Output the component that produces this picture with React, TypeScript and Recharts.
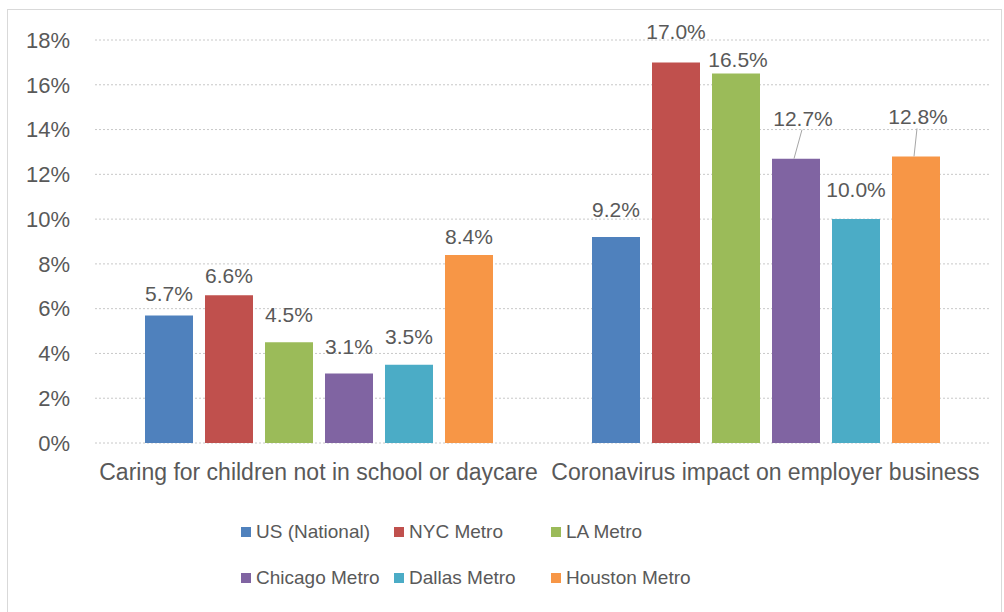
import React from "react"
import { BarChart, Bar, XAxis, YAxis, CartesianGrid, Legend, LabelList } from "recharts"

const categories = [
  "Caring for children not in school or daycare",
  "Coronavirus impact on employer business",
]

const usNational = [5.7, 9.2]
const nycMetro = [6.6, 17.0]
const laMetro = [4.5, 16.5]
const chicagoMetro = [3.1, 12.7]
const dallasMetro = [3.5, 10.0]
const houstonMetro = [8.4, 12.8]

const yTicks = [0, 2, 4, 6, 8, 10, 12, 14, 16, 18]

const series = [
  { key: "us", name: "US (National)", values: usNational, color: "#4F81BD" },
  { key: "nyc", name: "NYC Metro", values: nycMetro, color: "#C0504D" },
  { key: "la", name: "LA Metro", values: laMetro, color: "#9BBB59" },
  { key: "chi", name: "Chicago Metro", values: chicagoMetro, color: "#8064A2" },
  { key: "dal", name: "Dallas Metro", values: dallasMetro, color: "#4BACC6" },
  { key: "hou", name: "Houston Metro", values: houstonMetro, color: "#F79646" },
]

// label placement tweaks (how far above the bar top the label centre sits, x nudge, leader line)
const labelLift: Record<string, number[]> = {
  us: [22, 28],
  nyc: [20, 31],
  la: [28, 15],
  chi: [28, 41],
  dal: [29, 30],
  hou: [19, 40],
}
const labelDx: Record<string, number[]> = {
  us: [0, 0], nyc: [0, 0], la: [0, 2], chi: [0, 7], dal: [0, 0], hou: [0, 2],
}
const leaders = new Set(["chi-1", "hou-1"])

const data = categories.map((c, i) => {
  const row: Record<string, string | number> = { name: c }
  series.forEach((s) => { row[s.key] = s.values[i] })
  return row
})

const FONT = "'Liberation Sans', Arial, sans-serif"
const TEXT = "#595959"

function makeLabel(key: string) {
  return (p: any) => {
    const x = Number(p.x), y = Number(p.y), w = Number(p.width)
    const i = p.index as number
    const cx = x + w / 2 + (labelDx[key]?.[i] ?? 0)
    const cy = y - (labelLift[key]?.[i] ?? 24)
    return (
      <g>
        {leaders.has(`${key}-${i}`) && (
          <line x1={cx - 1} y1={cy + 12} x2={x + w / 2 - 2} y2={y} stroke="#a6a6a6" strokeWidth={1} />
        )}
        <text x={cx} y={cy + 8} textAnchor="middle" fontSize={21} fill={TEXT} fontFamily={FONT}>
          {Number(p.value).toFixed(1)}%
        </text>
      </g>
    )
  }
}

function LegendBox() {
  const cols = [241, 394, 551]
  const rows = [532, 578]
  return (
    <div style={{ position: "relative", width: 1004, height: 612 }}>
      {series.map((s, i) => (
        <div
          key={s.key}
          style={{
            position: "absolute",
            left: cols[i % 3],
            top: rows[Math.floor(i / 3)] - 12,
            height: 24,
            display: "flex",
            alignItems: "center",
            fontFamily: FONT,
            fontSize: 19,
            color: TEXT,
            whiteSpace: "nowrap",
          }}
        >
          <span style={{ width: 10, height: 10, background: s.color, marginRight: 5, display: "inline-block" }} />
          {s.name}
        </div>
      ))}
    </div>
  )
}

export default function App() {
  return (
    <div style={{ position: "absolute", left: 0, top: 0, width: 1004, height: 612, background: "#fff", overflow: "hidden" }}>
      <div style={{ position: "absolute", left: 7, top: 9, width: 993, height: 620, border: "1px solid #d9d9d9" }} />
      <BarChart
        width={1004}
        height={612}
        data={data}
        margin={{ top: 40, right: 15, left: 0, bottom: 139 }}
        barSize={48}
        barGap={12}
        style={{ position: "absolute", left: 0, top: 0 }}
      >
        <CartesianGrid vertical={false} stroke="#c8c8c8" strokeDasharray="2 2" />
        <XAxis
          dataKey="name"
          axisLine={false}
          tickLine={false}
          tickSize={0}
          tickMargin={21}
          interval={0}
          tick={{ fontSize: 23, fill: TEXT, fontFamily: FONT }}
        />
        <YAxis
          width={95}
          domain={[0, 18]}
          ticks={yTicks}
          axisLine={false}
          tickLine={false}
          tickSize={0}
          tickMargin={25}
          tickFormatter={(v: number) => `${v}%`}
          tick={{ fontSize: 22, fill: TEXT, fontFamily: FONT }}
        />
        <Legend
          layout="horizontal"
          verticalAlign="middle"
          align="center"
          wrapperStyle={{ left: 0, top: 0, width: 1004, height: 612, pointerEvents: "none" }}
          content={() => <LegendBox />}
        />
        {series.map((s) => (
          <Bar key={s.key} dataKey={s.key} name={s.name} fill={s.color} isAnimationActive={false}>
            <LabelList dataKey={s.key} content={makeLabel(s.key)} />
          </Bar>
        ))}
      </BarChart>
    </div>
  )
}
